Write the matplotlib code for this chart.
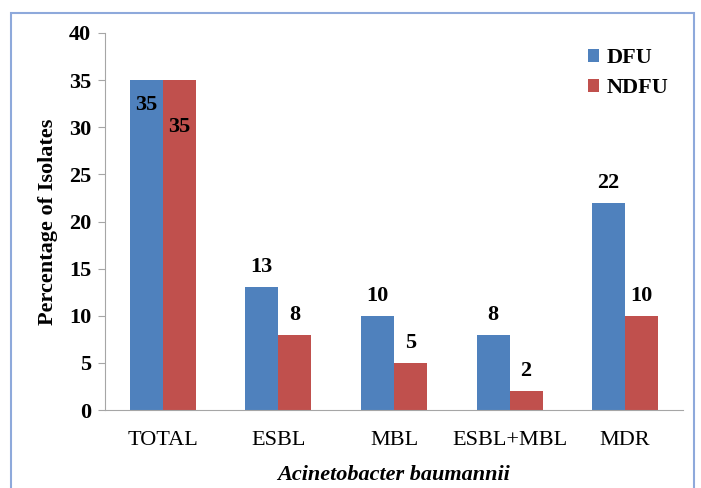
import matplotlib.pyplot as plt
import numpy as np
from matplotlib.patches import Rectangle

# Data
categories = ['TOTAL', 'ESBL', 'MBL', 'ESBL+MBL', 'MDR']
dfu = np.array([35, 13, 10, 8, 22])
ndfu = np.array([35, 8, 5, 2, 10])

blue = '#4F81BD'
red = '#C0504D'
serif = ['Liberation Serif', 'DejaVu Serif']
plt.rcParams['font.family'] = serif
fs = 16

fig = plt.figure(figsize=(7.01, 4.88), dpi=100)
ax = fig.add_axes([0.1498, 0.1598, 0.8245, 0.7726])

x = np.arange(len(categories))
w = 0.286
b1 = ax.bar(x - w / 2, dfu, w, color=blue, label='DFU')
b2 = ax.bar(x + w / 2, ndfu, w, color=red, label='NDFU')

# value labels (first group sits inside the bars)
for i, (bars, vals) in enumerate([(b1, dfu), (b2, ndfu)]):
    for j, (rect, v) in enumerate(zip(bars, vals)):
        if j == 0:
            off = -25 if i == 0 else -47
        else:
            off = 20
        ax.annotate(str(v), (rect.get_x() + rect.get_width() / 2, v),
                    xytext=(0, off), textcoords='offset pixels',
                    ha='center', va='center', fontsize=fs, fontweight='bold')

ax.set_xlim(-0.5, len(categories) - 0.5)
ax.set_ylim(0, 40)
ax.set_yticks(np.arange(0, 41, 5))
ax.set_xticks(x)
ax.set_xticklabels(categories, fontsize=fs)
for t in ax.get_yticklabels():
    t.set_fontsize(fs)
    t.set_fontweight('bold')

ax.spines['top'].set_visible(False)
ax.spines['right'].set_visible(False)
ax.spines['left'].set_color('#A6A6A6')
ax.spines['bottom'].set_color('#A6A6A6')
ax.tick_params(axis='y', length=5, color='#A6A6A6', pad=5)
ax.tick_params(axis='x', length=0, pad=15)

ax.set_ylabel('Percentage of Isolates', fontsize=fs, fontweight='bold', labelpad=8)
fig.text(0.562, 3 / 488, 'Acinetobacter baumannii', ha='center', va='bottom',
         fontsize=fs, fontweight='bold', style='italic')

ax.legend(loc='upper right', bbox_to_anchor=(1.01, 1.012), frameon=False,
          prop={'weight': 'bold', 'size': fs}, handlelength=0.5, handleheight=0.5,
          handletextpad=0.35, labelspacing=0.45)

# frame around the figure
fig.patches.append(Rectangle((11 / 701, -0.05), (694 - 11) / 701, 1.05 - 13 / 488,
                             transform=fig.transFigure, fill=False,
                             edgecolor='#8EA9DB', linewidth=1.5))

fig.savefig('out.png', dpi=100)
